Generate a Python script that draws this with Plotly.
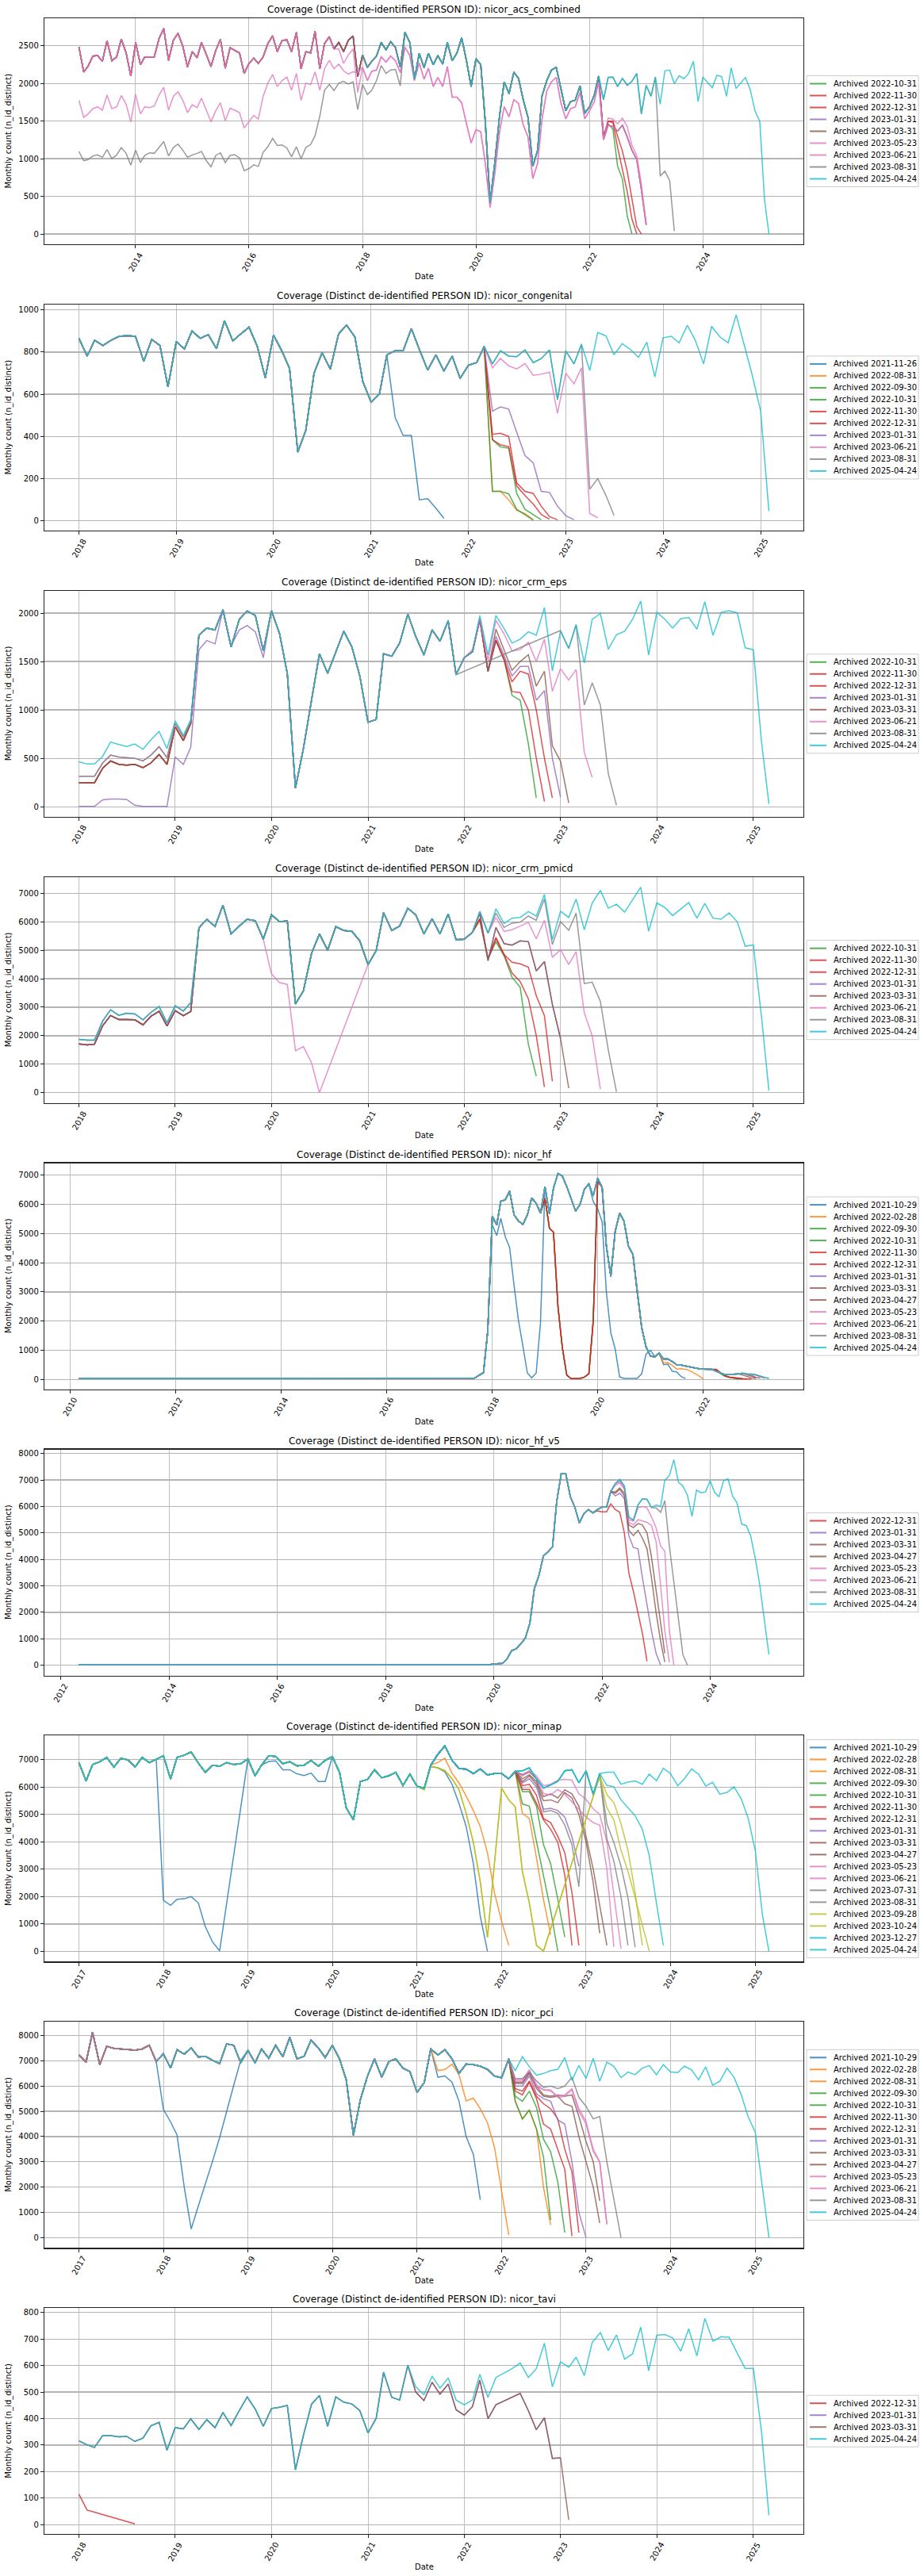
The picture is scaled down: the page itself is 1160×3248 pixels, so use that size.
import plotly.graph_objects as go
from datetime import datetime

# ---------------- archive palette ----------------
ARCHIVE_DATES = ["2021-10-29", "2021-11-26", "2022-02-28", "2022-08-31", "2022-09-30", "2022-10-31",
                 "2022-11-30", "2022-12-31", "2023-01-31", "2023-03-31", "2023-04-27", "2023-05-23",
                 "2023-06-21", "2023-07-31", "2023-08-31", "2023-09-28", "2023-10-24", "2023-12-27",
                 "2025-04-24"]
ARCHIVE_COLORS = ["#1f77b4", "#1f77b4", "#ff7f0e", "#ff7f0e", "#2ca02c", "#2ca02c",
                  "#d62728", "#d62728", "#9467bd", "#8c564b", "#8c564b", "#e377c2",
                  "#e377c2", "#7f7f7f", "#7f7f7f", "#bcbd22", "#bcbd22", "#17becf",
                  "#17becf"]

# ---------------- nicor_acs_combined (months from 2013-01) ----------------
ACS_START = "2013-01"
ACS_TOP_EARLY = [2485, 2150, 2230, 2363, 2370, 2293, 2569, 2300, 2352, 2590,
                 2405, 2097, 2544, 2248, 2352, 2352, 2352, 2597, 2729, 2307,
                 2572, 2666, 2492, 2220, 2422, 2342, 2544, 2387, 2223, 2439,
                 2586, 2202, 2474, 2439, 2405, 2132, 2265, 2335, 2265, 2352,
                 2527, 2631, 2422, 2572, 2579, 2422, 2677, 2195, 2422, 2405,
                 2694, 2195, 2527, 2621]
ACS_BROWN_1718 = [2457, 2544, 2422, 2572, 2631, 2090]
ACS_PINK_1718 = [2457, 2457, 2265, 2377, 2457, 1880]
ACS_LOWER_EARLY = [1776, 1550, 1595, 1665, 1689, 1644, 1846, 1665, 1689, 1839,
                   1724, 1487, 1853, 1595, 1689, 1679, 1700, 1846, 1951, 1644,
                   1829, 1888, 1776, 1612, 1717, 1679, 1804, 1654, 1490, 1637,
                   1742, 1504, 1672, 1644, 1612, 1410, 1490, 1574, 1525, 1829,
                   2003, 2118, 1958, 2038, 2084, 1909, 2132, 1776, 2003, 1986,
                   2153, 1909, 2195, 2307, 2195, 2255, 2167, 2125, 2153, 2143]
ACS_GRAY_EARLY = [1096, 974, 988, 1037, 1050, 1019, 1120, 1002, 1050, 1148,
                  1071, 914, 1113, 949, 1044, 1078, 1071, 1155, 1228, 1037,
                  1148, 1194, 1113, 1019, 1050, 1071, 1096, 974, 893, 1044,
                  1078, 949, 1044, 1054, 1009, 841, 869, 918, 897, 1085,
                  1159, 1270, 1176, 1183, 1141, 1026, 1159, 998, 1148, 1190,
                  1305, 1567, 1909, 1986, 1906, 2003, 2028, 1993, 2021, 1654,
                  1986, 1853, 1909, 2038, 2237, 2132, 2178, 2185, 1968]
ACS_BASE = [2377, 2213, 2293, 2363, 2544, 2447, 2555, 2474, 2213, 2677,
            2544, 2056, 2398, 2210, 2400, 2248, 2370, 2255, 2544, 2300,
            2405, 2607, 2300, 1958, 2328, 2248, 1497, 415, 939, 1567,
            2021, 1864, 2150, 2066, 1776, 1550, 897, 1113, 1829, 2038,
            2178, 2213, 1916, 1637, 1759, 1776, 1968, 1602, 1689, 1846,
            2097, 1783, 2080, 2084, 1958, 2066, 1975, 2028, 2132, 1595,
            1975, 1829, 2084, 1724, 2167, 2178, 1996, 2101, 2063, 2132,
            2293, 1759, 2084, 2014, 1944, 2108, 2091, 1829, 2206, 1934,
            2003, 2080, 1916, 1637, 1497, 450, 3]
ACS_PINK_MID = [2213, 2038, 2160, 2178, 2352, 2283, 2363, 2300, 2143, 2481,
                2370, 2038, 2272, 2056, 2202, 1958, 2080, 1958, 2223, 1818,
                1818, 1742, 1462, 1208, 1386, 1358, 939, 353, 799, 1358,
                1689, 1557, 1783, 1735, 1445, 1288, 736, 939, 1525, 1899,
                2021, 2080, 1742, 1529, 1665, 1689, 1881, 1529, 1637, 1759, 2021]
ACS_GREEN_TAIL = [1323, 1462, 1392, 900, 729, 240, 3]
ACS_RED1130_TAIL = [1288, 1497, 1480, 1150, 870, 560, 200, 3]
ACS_RED1231_TAIL = [1288, 1497, 1500, 1300, 1100, 830, 480, 100, 0]
ACS_LATE_TAIL = [1253, 1445, 1427, 1368, 1445, 1288, 1113, 991, 590, 120]
ACS_PINK0621_TAIL = [1253, 1539, 1525, 1462, 1539, 1427, 1183, 1043, 660, 136]
ACS_GRAY_TAIL = [771, 834, 712, 38]
ACS_TICK_YEARS = [2014, 2016, 2018, 2020, 2022, 2024]

_ACS_PRE = [(0, ACS_TOP_EARLY), (54, ACS_BROWN_1718), (60, ACS_BASE[:51])]
ACS_SERIES = [
    ("2022-10-31", _ACS_PRE + [(111, ACS_GREEN_TAIL)]),
    ("2022-11-30", _ACS_PRE + [(111, ACS_RED1130_TAIL)]),
    ("2022-12-31", _ACS_PRE + [(111, ACS_RED1231_TAIL)]),
    ("2023-01-31", _ACS_PRE + [(111, ACS_LATE_TAIL)]),
    ("2023-03-31", _ACS_PRE + [(111, ACS_LATE_TAIL)]),
    ("2023-05-23", [(0, ACS_LOWER_EARLY), (60, ACS_PINK_MID), (111, ACS_LATE_TAIL)]),
    ("2023-06-21", [(0, ACS_TOP_EARLY), (54, ACS_PINK_1718), (60, ACS_PINK_MID), (111, ACS_PINK0621_TAIL)]),
    ("2023-08-31", [(0, ACS_GRAY_EARLY), (69, ACS_BASE[9:63]), (123, ACS_GRAY_TAIL)]),
    ("2025-04-24", [(60, ACS_BASE)]),
]

# ---------------- nicor_congenital (months from 2018-01) ----------------
CONG_START = "2018-01"
CONG_BASE = [865, 781, 856, 831, 856, 875, 878, 875, 756, 860,
             831, 635, 850, 815, 900, 865, 883, 816, 949, 853,
             887, 918, 827, 678, 881, 806, 723, 326, 429, 700,
             797, 719, 887, 928, 872, 660, 563, 601, 787, 806,
             806, 912, 812, 715, 787, 710, 781, 675, 738, 750,
             827, 744, 806, 781, 778, 810, 750, 769, 810, 576,
             806, 744, 837, 713, 893, 877, 787, 840, 812, 775,
             847, 682, 868, 875, 844, 927, 856, 744, 922, 872,
             844, 977, 831, 688, 520, 46]
CONG_BLUE_TAIL = [490, 405, 405, 100, 105, 60, 12]
CONG_ORANGE_TAIL = [140, 140, 100, 50, 35, 5]
CONG_GREEN0930_TAIL = [140, 140, 128, 55, 30, 3]
CONG_GREEN1031_TAIL = [385, 350, 345, 130, 55, 30, 5]
CONG_RED1130_TAIL = [385, 360, 352, 165, 120, 80, 30, 8]
CONG_RED1231_TAIL = [410, 415, 400, 180, 140, 130, 70, 20, 5]
CONG_PURPLE_TAIL = [520, 540, 530, 420, 310, 275, 140, 135, 70, 25, 5]
CONG_PINK_TAIL = [725, 770, 735, 720, 745, 690, 695, 705, 510, 700, 650, 725, 35, 15]
CONG_GRAY_TAIL = [575, 806, 744, 837, 150, 200, 120, 25]
CONG_TICK_YEARS = [2018, 2019, 2020, 2021, 2022, 2023, 2024, 2025]

CONG_SERIES = [
    ("2021-11-26", [(0, CONG_BASE[:39]), (39, CONG_BLUE_TAIL)]),
    ("2022-08-31", [(0, CONG_BASE[:51]), (51, CONG_ORANGE_TAIL)]),
    ("2022-09-30", [(0, CONG_BASE[:51]), (51, CONG_GREEN0930_TAIL)]),
    ("2022-10-31", [(0, CONG_BASE[:51]), (51, CONG_GREEN1031_TAIL)]),
    ("2022-11-30", [(0, CONG_BASE[:51]), (51, CONG_RED1130_TAIL)]),
    ("2022-12-31", [(0, CONG_BASE[:51]), (51, CONG_RED1231_TAIL)]),
    ("2023-01-31", [(0, CONG_BASE[:51]), (51, CONG_PURPLE_TAIL)]),
    ("2023-06-21", [(0, CONG_BASE[:51]), (51, CONG_PINK_TAIL)]),
    ("2023-08-31", [(0, CONG_BASE[:59]), (59, CONG_GRAY_TAIL)]),
    ("2025-04-24", [(0, CONG_BASE)]),
]

# ---------------- nicor_crm_eps (months from 2018-01) ----------------
EPS_START = "2018-01"
EPS_BASE = [465, 441, 441, 520, 669, 642, 623, 648, 593, 691,
            778, 601, 887, 737, 901, 1771, 1845, 1826, 2035, 1649,
            1935, 2022, 1975, 1608, 2024, 1785, 1377, 193, 601, 1105,
            1581, 1377, 1594, 1812, 1649, 1350, 873, 901, 1581, 1554,
            1690, 1989, 1758, 1567, 1826, 1709, 1921, 1363, 1540, 1603,
            1975, 1567, 1975, 1839, 1690, 1731, 1807, 1771, 2057, 1404,
            1812, 1635, 1880, 1486, 1935, 1994, 1627, 1777, 1812, 1935,
            2125, 1567, 2008, 1935, 1845, 1943, 1954, 1834, 2117, 1771,
            2008, 2024, 2003, 1641, 1622, 669, 30]
EPS_BROWN_EARLY = [248, 248, 248, 397, 473, 438, 430, 438, 403, 452, 539, 438, 825, 683, 860]
EPS_GRAY_EARLY = [316, 316, 316, 452, 533, 514, 506, 500, 473, 533, 620, 506, 860, 720, 880]
EPS_PURPLE_EARLY = [3, 3, 3, 71, 79, 79, 76, 16, 3, 3, 3, 3, 514, 438, 615, 1622, 1717, 1682,
                    2030, 1663, 1826, 1872, 1807, 1540]
EPS_GREEN_TAIL = [1540, 1600, 1935, 1400, 1720, 1520, 1150, 1100, 650, 90]
EPS_RED1130_TAIL = [1540, 1600, 1935, 1400, 1720, 1520, 1190, 1180, 1000, 500, 55]
EPS_RED1231_TAIL = [1540, 1600, 1935, 1400, 1720, 1520, 1290, 1400, 1370, 1000, 500, 90]
EPS_PURPLE_TAIL = [1540, 1600, 1935, 1400, 1760, 1560, 1350, 1450, 1450, 1100, 1200, 500, 100]
EPS_BROWN_TAIL = [1540, 1600, 1935, 1400, 1834, 1620, 1409, 1500, 1570, 1245, 1400, 630, 470, 40]
EPS_PINK_TAIL = [1540, 1620, 1943, 1513, 1926, 1785, 1608, 1622, 1698, 1499, 1731, 1192, 1426,
                 1309, 1418, 561, 302]
EPS_GRAY_TAIL = [1820, 1635, 1880, 1050, 1280, 1050, 343, 16]
EPS_TICK_YEARS = [2018, 2019, 2020, 2021, 2022, 2023, 2024, 2025]

_EPS_PRE = [(0, EPS_BROWN_EARLY), (15, EPS_BASE[15:48])]
EPS_SERIES = [
    ("2022-10-31", _EPS_PRE + [(48, EPS_GREEN_TAIL)]),
    ("2022-11-30", _EPS_PRE + [(48, EPS_RED1130_TAIL)]),
    ("2022-12-31", _EPS_PRE + [(48, EPS_RED1231_TAIL)]),
    ("2023-01-31", [(0, EPS_PURPLE_EARLY), (24, EPS_BASE[24:48]), (48, EPS_PURPLE_TAIL)]),
    ("2023-03-31", _EPS_PRE + [(48, EPS_BROWN_TAIL)]),
    ("2023-06-21", [(0, EPS_GRAY_EARLY), (15, EPS_BASE[15:48]), (48, EPS_PINK_TAIL)]),
    ("2023-08-31", [(0, EPS_GRAY_EARLY), (15, EPS_BASE[15:48]), (60, EPS_GRAY_TAIL)]),
    ("2025-04-24", [(0, EPS_BASE)]),
]

# ---------------- nicor_crm_pmicd (months from 2018-01) ----------------
PMICD_START = "2018-01"
PMICD_BASE = [1870, 1842, 1842, 2514, 2910, 2717, 2790, 2763, 2560, 2818,
              3021, 2450, 3049, 2864, 3159, 5784, 6088, 5830, 6585, 5572,
              5848, 6088, 6033, 5388, 6244, 5996, 6033, 3113, 3573, 4890,
              5572, 5001, 5830, 5692, 5664, 5323, 4494, 4983, 6318, 5692,
              5848, 6475, 6244, 5572, 6106, 5572, 6272, 5369, 5388, 5627,
              6355, 5600, 6456, 5940, 6125, 6152, 6355, 6198, 6954, 5369,
              6364, 6152, 6797, 5719, 6659, 7101, 6475, 6613, 6336, 6769,
              7211, 5664, 6659, 6493, 6217, 6447, 6677, 6125, 6640, 6125,
              6088, 6309, 5996, 5139, 5185, 2652, 74]
PMICD_BROWN_EARLY = [1710, 1680, 1700, 2350, 2710, 2570, 2570, 2560, 2380, 2680, 2860, 2340,
                     2880, 2700, 2850]
PMICD_GREEN_TAIL = [6050, 4700, 5300, 4800, 4050, 3700, 1700, 580]
PMICD_RED1130_TAIL = [6100, 4700, 5400, 4850, 4200, 3900, 3300, 2000, 200]
PMICD_RED1231_TAIL = [6100, 4700, 5450, 4850, 4580, 4520, 4400, 3400, 2700, 400]
PMICD_PURPLE_TAIL = [6290, 4630, 5800, 5230, 5180, 5330, 5300, 4270, 4600, 3100, 1900]
PMICD_BROWN_TAIL = [6290, 4630, 5800, 5230, 5180, 5330, 5300, 4270, 4600, 3100, 1900, 160]
PMICD_PINK_DIP = [6033, 5388, 4172, 3860, 3800, 1470, 1620, 1050, 0]
PMICD_PINK_TAIL = [6150, 5660, 5720, 5850, 5980, 5400, 6050, 4750, 5020, 4500, 4950, 2800, 2000, 130]
PMICD_GRAY_TAIL = [6300, 5800, 5950, 5980, 6200, 6050, 6800, 5200, 6000, 5700, 6300, 3830,
                   3880, 3200, 1500, 30]
PMICD_TICK_YEARS = [2018, 2019, 2020, 2021, 2022, 2023, 2024, 2025]

_PM_PRE = [(0, PMICD_BROWN_EARLY), (15, PMICD_BASE[15:50])]
PMICD_SERIES = [
    ("2022-10-31", _PM_PRE + [(50, PMICD_GREEN_TAIL)]),
    ("2022-11-30", _PM_PRE + [(50, PMICD_RED1130_TAIL)]),
    ("2022-12-31", _PM_PRE + [(50, PMICD_RED1231_TAIL)]),
    ("2023-01-31", _PM_PRE + [(50, PMICD_PURPLE_TAIL)]),
    ("2023-03-31", _PM_PRE + [(50, PMICD_BROWN_TAIL)]),
    ("2023-06-21", [(0, PMICD_BASE[:22]), (22, PMICD_PINK_DIP), (36, PMICD_BASE[36:52]),
                    (52, PMICD_PINK_TAIL)]),
    ("2023-08-31", [(0, PMICD_BASE[:52]), (52, PMICD_GRAY_TAIL)]),
    ("2025-04-24", [(0, PMICD_BASE)]),
]

# ---------------- nicor_hf (months from 2010-03) ----------------
HF_START = "2010-03"
HF_FLAT = [35, 35, 35, 35, 35, 35, 35, 35, 35, 35,
           35, 35, 35, 35, 35, 35, 35, 35, 35, 35,
           35, 35, 35, 35, 35, 35, 35, 35, 35, 35,
           35, 35, 35, 35, 35, 35, 35, 35, 35, 35,
           35, 35, 35, 35, 35, 35, 35, 35, 35, 35,
           35, 35, 35, 35, 35, 35, 35, 35, 35, 35,
           35, 35, 35, 35, 35, 35, 35, 35, 35, 35,
           35, 35, 35, 35, 35, 35, 35, 35, 35, 35,
           35, 35, 35, 35, 35, 35, 35, 35, 38, 42]
HF_LATE = [50, 145, 235, 1680,
           5590, 5300, 6110, 6155, 6455, 5640, 5430, 5315, 5640, 6220, 6040, 5700,
           6610, 5680, 6560, 7060, 6970, 6610, 6200, 5770, 6000, 6520, 6700, 6290,
           6900, 6580, 4570, 3535, 5070, 5700, 5430, 4570, 4285, 2990, 1770, 1120,
           795, 780, 910, 700, 700, 615, 505, 490, 460, 415, 400, 370,
           360, 350, 350, 280, 215, 165, 165, 180, 190, 215, 190, 190,
           160, 125, 75, 35]
HF_BLUE_2018 = [5300, 4930, 5520, 4890, 4530, 3220, 2040, 1140, 220, 55, 220, 1950]
HF_BLUE_2020 = [6100, 5850, 5400, 3000, 1600, 1050, 90, 40, 35, 35, 35, 200, 870, 1000]
HF_BLUE_2021 = [780, 910, 505, 525, 280, 260, 100, 35]
HF_ORANGE_TAIL = [570, 580, 480, 360, 370, 350, 300, 220, 130, 20]
HF_RED_DIP = [6200, 5180, 5050, 2500, 1100, 150, 30, 30, 35, 80, 200, 2000, 6800]
HF_G0930_TAIL = [330, 200, 110, 70, 40, 20]
HF_G1031_TAIL = [340, 215, 120, 80, 50, 30, 20]
HF_R1130_TAIL = [345, 225, 130, 80, 55, 35, 25, 20]
HF_R1231_TAIL = [350, 230, 135, 85, 60, 40, 30, 25, 20]
HF_PURPLE_TAIL = [200, 180, 150, 60]
HF_BROWN0331_TAIL = [150, 100, 60, 40]
HF_BROWN0427_TAIL = [160, 110, 70, 50]
HF_PINK0523_TAIL = [180, 150, 90, 40]
HF_PINK0621_TAIL = [185, 160, 110, 40]
HF_TICK_YEARS = [2010, 2012, 2014, 2016, 2018, 2020, 2022]

_HF_DIP = [(0, HF_FLAT), (90, HF_LATE[:16]), (106, HF_RED_DIP), (119, HF_LATE[29:55])]
HF_SERIES = [
    ("2021-10-29", [(0, HF_FLAT), (90, HF_LATE[:4]), (94, HF_BLUE_2018), (106, HF_LATE[16:27]),
                    (117, HF_BLUE_2020), (131, HF_BLUE_2021)]),
    ("2022-02-28", [(0, HF_FLAT), (90, HF_LATE[:43]), (133, HF_ORANGE_TAIL)]),
    ("2022-09-30", _HF_DIP + [(145, HF_G0930_TAIL)]),
    ("2022-10-31", _HF_DIP + [(145, HF_G1031_TAIL)]),
    ("2022-11-30", _HF_DIP + [(145, HF_R1130_TAIL)]),
    ("2022-12-31", _HF_DIP + [(145, HF_R1231_TAIL)]),
    ("2023-01-31", [(0, HF_FLAT), (90, HF_LATE[:61]), (151, HF_PURPLE_TAIL)]),
    ("2023-03-31", [(0, HF_FLAT), (90, HF_LATE[:61]), (151, HF_BROWN0331_TAIL)]),
    ("2023-04-27", [(0, HF_FLAT), (90, HF_LATE[:62]), (152, HF_BROWN0427_TAIL)]),
    ("2023-05-23", [(0, HF_FLAT), (90, HF_LATE[:63]), (153, HF_PINK0523_TAIL)]),
    ("2023-06-21", [(0, HF_FLAT), (90, HF_LATE[:63]), (153, HF_PINK0621_TAIL)]),
    ("2023-08-31", [(0, HF_FLAT), (90, HF_LATE)]),
    ("2025-04-24", [(0, HF_FLAT), (90, HF_LATE)]),
]

# ---------------- nicor_hf_v5 (months from 2012-05) ----------------
V5_START = "2012-05"
V5_FLAT = [15, 15, 15, 15, 15, 15, 15, 15, 15, 15,
           15, 15, 15, 15, 15, 15, 15, 15, 15, 15,
           15, 15, 15, 15, 15, 15, 15, 15, 15, 15,
           15, 15, 15, 15, 15, 15, 15, 15, 15, 15,
           15, 15, 15, 15, 15, 15, 15, 15, 15, 15,
           15, 15, 15, 15, 15, 15, 15, 15, 15, 15,
           15, 15, 15, 15, 15, 15, 15, 15, 15, 15,
           15, 15, 15, 15, 15, 15, 15, 15, 15, 15,
           15, 15, 15, 15, 15, 15, 15, 15, 15, 15, 18]
V5_LATE = [20,
           50, 50, 70, 250, 550, 620, 800, 1020, 1590, 2890, 3390, 4130,
           4280, 4480, 6180, 7250, 7250, 6370, 5980, 5380, 5730, 5880, 5760, 5880,
           5980, 5980, 6570, 6870, 7020, 6770, 5600, 5480, 6060, 6290, 6270, 5960,
           6060, 6000, 6990, 7170, 7770, 6920, 6770, 6420, 5630, 6620, 6520, 6550,
           6970, 6520, 6370, 6970, 7050, 6390, 6130, 5330, 5280, 4880, 4030, 3040,
           1640, 400]
V5_RED_TAIL = [5830, 5800, 5800, 6100, 5880, 5780, 5000, 3490, 2790, 2000, 1200, 150]
V5_PURPLE_TAIL = [6400, 6500, 6300, 4900, 4450, 4400, 3300, 2300, 1300, 450, 0]
V5_BROWN0331_TAIL = [6500, 6650, 6400, 5100, 4900, 5100, 4800, 4400, 3300, 2000, 900, 120]
V5_BROWN0427_TAIL = [6550, 6700, 6500, 5300, 5200, 5350, 5300, 5000, 4100, 2800, 1500, 450]
V5_PINK0523_TAIL = [6800, 6900, 6650, 5400, 5300, 5500, 5450, 5400, 5280, 4680, 3000, 1300, 100]
V5_PINK0621_TAIL = [6850, 6950, 6700, 5500, 5450, 5950, 6000, 5950, 5600, 5200, 4500, 4300, 1300, 0]
V5_GRAY_TAIL = [5950, 5780, 6220, 4500, 3200, 1800, 400, 0]
V5_TICK_YEARS = [2012, 2014, 2016, 2018, 2020, 2022, 2024]

V5_SERIES = [
    ("2022-12-31", [(0, V5_FLAT), (91, V5_LATE[:24]), (115, V5_RED_TAIL)]),
    ("2023-01-31", [(0, V5_FLAT), (91, V5_LATE[:28]), (119, V5_PURPLE_TAIL)]),
    ("2023-03-31", [(0, V5_FLAT), (91, V5_LATE[:28]), (119, V5_BROWN0331_TAIL)]),
    ("2023-04-27", [(0, V5_FLAT), (91, V5_LATE[:28]), (119, V5_BROWN0427_TAIL)]),
    ("2023-05-23", [(0, V5_FLAT), (91, V5_LATE[:28]), (119, V5_PINK0523_TAIL)]),
    ("2023-06-21", [(0, V5_FLAT), (91, V5_LATE[:28]), (119, V5_PINK0621_TAIL)]),
    ("2023-08-31", [(0, V5_FLAT), (91, V5_LATE[:37]), (128, V5_GRAY_TAIL)]),
    ("2025-04-24", [(0, V5_FLAT), (91, V5_LATE)]),
]

# ---------------- nicor_minap (months from 2017-01) ----------------
MINAP_START = "2017-01"
MINAP_BASE = [6890, 6220, 6820, 6920, 7080, 6730, 7045, 6990, 6730, 7080,
              6890, 7020, 7140, 6290, 7080, 7160, 7280, 6870, 6535, 6795,
              6755, 6890, 6820, 6850, 7020, 6410, 6795, 7140, 7110, 6850,
              6920, 6775, 6795, 6970, 6755, 6970, 7110, 6535, 5235, 4800,
              6200, 6275, 6630, 6340, 6410, 6535, 6055, 6470, 6025,
              5950, 6800, 7200, 7500,
              6970, 6680, 6650, 6490, 6660, 6440, 6490,
              6490, 6300, 6570, 6590, 6700, 6300, 5960, 6075, 6200, 6590, 6630, 6150,
              6590, 5740, 6490, 6540, 6540, 6100, 6180, 6220, 6100, 6470, 6230, 6680,
              6490, 6045, 6300, 6660, 6470, 6035, 6170, 5740, 5800, 6010, 5575, 4870,
              3690, 1330, 10]
MINAP_BLUE_2018 = [1860, 1680, 1900, 1920, 2000, 1770, 900, 350, 20]
MINAP_BLUE_2019 = [7020, 6400, 6800, 6930, 6950, 6630, 6630, 6480, 6420, 6510, 6200, 6200]
MINAP_BLUE_2021 = [6750, 6700, 6550, 6100, 5400, 4560, 3210, 1280, 10]
MINAP_ORANGE0228_TAIL = [6800, 6900, 7050, 6500, 6150, 5670, 5140, 4560, 3600, 2150, 1100, 220]
MINAP_ORANGE0831_TAIL = [5040, 4850, 3400, 1900, 600]
MINAP_GREEN0930_TAIL = [5380, 5300, 4000, 2800, 1500, 0]
MINAP_GREEN1031_TAIL = [5830, 5830, 5300, 3900, 3200, 1900, 520]
MINAP_RED1130_TAIL = [5910, 5910, 5400, 4800, 4460, 3980, 2800, 220]
MINAP_RED1231_TAIL = [6050, 6100, 5700, 4850, 4700, 4200, 3600, 2150, 220]
MINAP_PURPLE_TAIL = [6150, 6300, 6000, 5190, 5220, 5140, 4900, 4180, 3110]
MINAP_BROWN0331_TAIL = [6200, 6400, 6100, 5500, 5530, 5430, 5800, 5600, 5000, 4000, 2500, 660]
MINAP_BROWN0427_TAIL = [6300, 6450, 6200, 5650, 5750, 5600, 5900, 5750, 5300, 4200, 3000, 1700, 220]
MINAP_PINK0523_TAIL = [6400, 6550, 6300, 5770, 5700, 5910, 5740, 5450, 5190, 4900, 4700, 4610, 3000, 170]
MINAP_PINK0621_TAIL = [6450, 6600, 6400, 6050, 6100, 6250, 6280, 6250, 5750, 5550, 5200, 5000,
                       4000, 2000, 100]
MINAP_GRAY0731_TAIL = [6450, 6550, 6300, 5090, 5140, 5040, 4610, 3890, 2360, 6590, 5700, 6490,
                       4100, 3300, 2000, 220]
MINAP_GRAY0831_TAIL = [4660, 3980, 3110, 1960, 150]
MINAP_OLIVE_2021 = [5900, 6750, 6700, 6600, 6300, 5910, 5040, 3980, 2540, 510]
MINAP_OLIVE_2022 = [5960, 5530, 5280, 2920, 1760, 220, 10]
MINAP_OLIVE0928_2023 = [6390, 5720, 5430, 4660, 3690, 2150, 220]
MINAP_OLIVE1024_2023 = [6390, 5240, 4800, 3690, 2920, 1960, 1000, 10]
MINAP_CYAN1227_TAIL = [6060, 6010, 5530, 5240, 4950, 4460, 3500, 1770, 220]
MINAP_TICK_YEARS = [2017, 2018, 2019, 2020, 2021, 2022, 2023, 2024, 2025]

_MI_PRE = [(0, MINAP_BASE[:63])]
_MI_OLIVE = [(0, MINAP_BASE[:49]), (49, MINAP_OLIVE_2021), (60, MINAP_OLIVE_2022)]
MINAP_SERIES = [
    ("2021-10-29", [(0, MINAP_BASE[:12]), (12, MINAP_BLUE_2018), (24, MINAP_BLUE_2019),
                    (36, MINAP_BASE[36:50]), (50, MINAP_BLUE_2021)]),
    ("2022-02-28", [(0, MINAP_BASE[:50]), (50, MINAP_ORANGE0228_TAIL)]),
    ("2022-08-31", _MI_PRE + [(63, MINAP_ORANGE0831_TAIL)]),
    ("2022-09-30", _MI_PRE + [(63, MINAP_GREEN0930_TAIL)]),
    ("2022-10-31", _MI_PRE + [(63, MINAP_GREEN1031_TAIL)]),
    ("2022-11-30", _MI_PRE + [(63, MINAP_RED1130_TAIL)]),
    ("2022-12-31", _MI_PRE + [(63, MINAP_RED1231_TAIL)]),
    ("2023-01-31", _MI_PRE + [(63, MINAP_PURPLE_TAIL)]),
    ("2023-03-31", _MI_PRE + [(63, MINAP_BROWN0331_TAIL)]),
    ("2023-04-27", _MI_PRE + [(63, MINAP_BROWN0427_TAIL)]),
    ("2023-05-23", _MI_PRE + [(63, MINAP_PINK0523_TAIL)]),
    ("2023-06-21", _MI_PRE + [(63, MINAP_PINK0621_TAIL)]),
    ("2023-07-31", _MI_PRE + [(63, MINAP_GRAY0731_TAIL)]),
    ("2023-08-31", [(0, MINAP_BASE[:75]), (75, MINAP_GRAY0831_TAIL)]),
    ("2023-09-28", _MI_OLIVE + [(74, MINAP_OLIVE0928_2023)]),
    ("2023-10-24", _MI_OLIVE + [(74, MINAP_OLIVE1024_2023)]),
    ("2023-12-27", [(0, MINAP_BASE[:75]), (75, MINAP_CYAN1227_TAIL)]),
    ("2025-04-24", [(0, MINAP_BASE)]),
]

# ---------------- nicor_pci (months from 2017-01) ----------------
PCI_START = "2017-01"
PCI_BASE = [7230, 6950, 8135, 6850, 7575, 7490, 7470, 7440, 7420, 7470,
            7615, 6970, 7280, 6710, 7440, 7260, 7510, 7150, 7180, 7020,
            6890, 7670, 7615, 6920, 7410, 6920, 7470, 7100, 7615, 7160,
            7930, 7075, 7180, 7820, 7510, 7130, 7615, 7075, 6245, 4060,
            5465, 6400, 7075, 6350, 6970, 7075, 6710, 6575, 5745, 6140,
            7470, 7230, 7440, 7075, 6500, 6870, 6850, 6785, 6660, 6400,
            6330, 7075, 6610, 7160, 6765, 6430, 6500, 6610, 6660, 7130,
            6225, 6815, 6300, 7100, 6190, 6950, 6785, 6330, 6555, 6450,
            6710, 6815, 6450, 6850, 6555, 6535, 6785, 6640, 6245, 6765,
            6035, 6190, 6710, 6350, 5675, 4790, 4170, 1985, 10]
PCI_BLUE_2018 = [5080, 4580, 4060, 2000, 340, 1250, 2090, 3020, 3960, 5000, 6040, 7020]
PCI_BLUE_2021 = [6350, 6400, 6150, 5400, 4000, 3300, 1500]
PCI_ORANGE0228_TAIL = [6610, 6660, 6870, 6450, 5410, 5520, 5100, 4550, 3600, 1900, 100]
PCI_ORANGE0831_TAIL = [5400, 4700, 5050, 4300, 2000, 500]
PCI_GREEN0930_TAIL = [5400, 4700, 5050, 4300, 3200, 700]
PCI_GREEN1031_TAIL = [5600, 5400, 5800, 5150, 3900, 3400, 2200, 200]
PCI_RED1130_TAIL = [5800, 5650, 6150, 5500, 4500, 4300, 3500, 2700, 60]
PCI_RED1231_TAIL = [5900, 5800, 6200, 5600, 5300, 5100, 4700, 3500, 2600, 200]
PCI_PURPLE_TAIL = [6000, 6000, 6400, 5700, 5500, 5400, 4650, 4500, 3000, 1000, 0]
PCI_BROWN0331_TAIL = [6100, 6100, 6500, 5900, 5600, 5550, 5600, 5300, 5200, 4000, 3000, 2000, 580]
PCI_BROWN0427_TAIL = [6150, 6150, 6550, 6000, 5650, 5600, 5650, 5600, 5650, 4800, 3800, 3000, 1460]
PCI_PINK0523_TAIL = [6200, 6200, 6600, 6000, 5850, 5850, 5550, 5600, 5850, 5000, 4500, 3400, 3000, 530]
PCI_PINK0621_TAIL = [6250, 6250, 6650, 6050, 5850, 5800, 5600, 5650, 5900, 5100, 4600, 3500, 3000, 530]
PCI_GRAY_TAIL = [6300, 6300, 6550, 6200, 5950, 6000, 5900, 6000, 6350, 5550, 5200, 4700, 4800,
                 3000, 1500, 0]
PCI_TICK_YEARS = [2017, 2018, 2019, 2020, 2021, 2022, 2023, 2024, 2025]

_PCI_PRE = [(0, PCI_BASE[:62])]
PCI_SERIES = [
    ("2021-10-29", [(0, PCI_BASE[:12]), (12, PCI_BLUE_2018), (24, PCI_BASE[24:51]), (51, PCI_BLUE_2021)]),
    ("2022-02-28", [(0, PCI_BASE[:51]), (51, PCI_ORANGE0228_TAIL)]),
    ("2022-08-31", _PCI_PRE + [(62, PCI_ORANGE0831_TAIL)]),
    ("2022-09-30", _PCI_PRE + [(62, PCI_GREEN0930_TAIL)]),
    ("2022-10-31", _PCI_PRE + [(62, PCI_GREEN1031_TAIL)]),
    ("2022-11-30", _PCI_PRE + [(62, PCI_RED1130_TAIL)]),
    ("2022-12-31", _PCI_PRE + [(62, PCI_RED1231_TAIL)]),
    ("2023-01-31", _PCI_PRE + [(62, PCI_PURPLE_TAIL)]),
    ("2023-03-31", _PCI_PRE + [(62, PCI_BROWN0331_TAIL)]),
    ("2023-04-27", _PCI_PRE + [(62, PCI_BROWN0427_TAIL)]),
    ("2023-05-23", _PCI_PRE + [(62, PCI_PINK0523_TAIL)]),
    ("2023-06-21", _PCI_PRE + [(62, PCI_PINK0621_TAIL)]),
    ("2023-08-31", _PCI_PRE + [(62, PCI_GRAY_TAIL)]),
    ("2025-04-24", [(11, PCI_BASE[11:])]),
]

# ---------------- nicor_tavi (months from 2018-01) ----------------
TAVI_START = "2018-01"
TAVI_BASE = [316, 301, 291, 336, 336, 331, 333, 314, 326, 373,
             386, 281, 366, 361, 399, 359, 396, 366, 423, 374,
             430, 482, 435, 371, 438, 443, 450, 207, 336, 455,
             487, 371, 482, 462, 455, 430, 346, 401, 575, 480,
             470, 601, 520, 490, 560, 515, 553, 470, 452, 470,
             567, 480, 555, 572, 588, 610, 555, 588, 684, 520,
             614, 594, 632, 562, 687, 724, 657, 716, 624, 644,
             745, 581, 714, 717, 704, 654, 739, 636, 778, 692,
             709, 707, 649, 589, 589, 351, 35]
TAVI_RED = [115, 55, 47, 38, 29, 21, 12, 3]
TAVI_BROWN_TAIL = [500, 468, 537, 492, 530, 433, 413, 445, 545, 400, 452, 466, 480, 495, 430,
                   358, 403, 250, 252, 18]
TAVI_TICK_YEARS = [2018, 2019, 2020, 2021, 2022, 2023, 2024, 2025]

TAVI_SERIES = [
    ("2022-12-31", [(0, TAVI_RED)]),
    ("2023-01-31", [(0, TAVI_BASE[:42]), (42, TAVI_BROWN_TAIL[:-1])]),
    ("2023-03-31", [(0, TAVI_BASE[:42]), (42, TAVI_BROWN_TAIL)]),
    ("2025-04-24", [(0, TAVI_BASE)]),
]

PANELS = [
    ("nicor_acs_combined", ACS_START, ACS_SERIES, ACS_TICK_YEARS, 500),
    ("nicor_congenital", CONG_START, CONG_SERIES, CONG_TICK_YEARS, 200),
    ("nicor_crm_eps", EPS_START, EPS_SERIES, EPS_TICK_YEARS, 500),
    ("nicor_crm_pmicd", PMICD_START, PMICD_SERIES, PMICD_TICK_YEARS, 1000),
    ("nicor_hf", HF_START, HF_SERIES, HF_TICK_YEARS, 1000),
    ("nicor_hf_v5", V5_START, V5_SERIES, V5_TICK_YEARS, 1000),
    ("nicor_minap", MINAP_START, MINAP_SERIES, MINAP_TICK_YEARS, 1000),
    ("nicor_pci", PCI_START, PCI_SERIES, PCI_TICK_YEARS, 1000),
    ("nicor_tavi", TAVI_START, TAVI_SERIES, TAVI_TICK_YEARS, 100),
]


# ---------------- helpers ----------------
def add_months(start, k):
    y, m = (int(p) for p in start.split("-"))
    t = y * 12 + (m - 1) + k
    return datetime(t // 12, t % 12 + 1, 1)


def build(start, segments):
    xs, ys = [], []
    for off, vals in segments:
        for i, v in enumerate(vals):
            xs.append(add_months(start, off + i))
            ys.append(v)
    return xs, ys


# ---------------- geometry ----------------
W, H = 1160, 3248
ML, MR = 56, 147
PW = W - ML - MR
TOP0, PITCH, AXH = 23.0, 360.9, 285.0
FONT = "DejaVu Sans"
LEG_X0, LEG_X1 = 1017, 1158
LEG_H0, LEG_H1, LEG_TX = 1021, 1042, 1049
LEG_STEP = 15.0


def px_x(px):
    return (px - ML) / PW


def px_y(py):
    return 1 - py / H


fig = go.Figure()
layout = dict(
    width=W, height=H,
    margin=dict(l=ML, r=MR, t=0, b=0),
    paper_bgcolor="white", plot_bgcolor="white",
    font=dict(family=FONT, size=10, color="#000"),
    showlegend=False,
)
annotations = []
shapes = []

for i, (name, start, series, tick_years, dtick) in enumerate(PANELS):
    sfx = "" if i == 0 else str(i + 1)
    top = TOP0 + PITCH * i
    bot = top + AXH
    all_x, all_y = [], []
    for arch, segs in series:
        xs, ys = build(start, segs)
        all_x += xs
        all_y += ys
        col = ARCHIVE_COLORS[ARCHIVE_DATES.index(arch)]
        fig.add_trace(go.Scatter(
            x=xs, y=ys, mode="lines", name=f"Archived {arch}",
            line=dict(color=col, width=1.5), opacity=0.8,
            xaxis="x" + sfx, yaxis="y" + sfx, showlegend=False, hoverinfo="skip"))
    lo, hi = min(all_x), max(all_x)
    span = hi - lo
    xr = [(lo - span * 0.05).isoformat(), (hi + span * 0.05).isoformat()]
    ymin, ymax = min(all_y), max(all_y)
    pad = (ymax - ymin) * 0.05
    yr = [ymin - pad, ymax + pad]

    layout["xaxis" + sfx] = dict(
        domain=[0, 1], anchor="y" + sfx, type="date", range=xr,
        tickvals=[f"{yy}-01-01" for yy in tick_years], showticklabels=False,
        ticks="outside", ticklen=4, tickwidth=1, tickcolor="#222",
        showgrid=True, gridcolor="#b0b0b0", gridwidth=0.8,
        showline=True, linecolor="#222", linewidth=1.2, mirror=True,
        zeroline=False, automargin=False)
    layout["yaxis" + sfx] = dict(
        domain=[1 - bot / H, 1 - top / H], anchor="x" + sfx, range=yr,
        tick0=0, dtick=dtick, ticks="outside", ticklen=4, tickwidth=1, tickcolor="#222",
        showgrid=True, gridcolor="#b4b4b4", gridwidth=1.3,
        showline=True, linecolor="#222", linewidth=1.2, mirror=True,
        zeroline=False, automargin=False, tickfont=dict(size=10, color="#000"))

    # rotated, centred year labels (matplotlib style)
    for yy in tick_years:
        annotations.append(dict(
            text=str(yy), x=f"{yy}-01-01", y=px_y(bot + 6), xref="x" + sfx, yref="paper",
            xanchor="center", yanchor="top", textangle=-60, showarrow=False,
            font=dict(family=FONT, size=10, color="#000")))

    # titles and axis labels
    annotations.append(dict(
        text=f"Coverage (Distinct de-identified PERSON ID): {name}",
        x=0.5, y=px_y(top - 11), xref="paper", yref="paper",
        xanchor="center", yanchor="middle", showarrow=False,
        font=dict(family=FONT, size=12, color="#000")))
    annotations.append(dict(
        text="Monthly count (n_id_distinct)",
        x=px_x(11), y=px_y(top + AXH / 2), xref="paper", yref="paper",
        xanchor="center", yanchor="middle", textangle=-90, showarrow=False,
        font=dict(family=FONT, size=10, color="#000")))
    annotations.append(dict(
        text="Date", x=0.5, y=px_y(bot + 41), xref="paper", yref="paper",
        xanchor="center", yanchor="middle", showarrow=False,
        font=dict(family=FONT, size=10, color="#000")))

    # legend box (matplotlib style)
    n = len(series)
    cy = top + AXH / 2
    box_h = (n - 1) * LEG_STEP + 20
    btop = cy - box_h / 2
    shapes.append(dict(
        type="rect", xref="paper", yref="paper",
        x0=px_x(LEG_X0), x1=px_x(LEG_X1), y0=px_y(btop + box_h), y1=px_y(btop),
        line=dict(color="#cccccc", width=1), fillcolor="rgba(255,255,255,0.85)", layer="above"))
    for j, (arch, _) in enumerate(series):
        ey = btop + 10 + j * LEG_STEP
        col = ARCHIVE_COLORS[ARCHIVE_DATES.index(arch)]
        shapes.append(dict(
            type="line", xref="paper", yref="paper",
            x0=px_x(LEG_H0), x1=px_x(LEG_H1), y0=px_y(ey), y1=px_y(ey),
            line=dict(color=col, width=2), opacity=0.8, layer="above"))
        annotations.append(dict(
            text=f"Archived {arch}", x=px_x(LEG_TX), y=px_y(ey), xref="paper", yref="paper",
            xanchor="left", yanchor="middle", showarrow=False,
            font=dict(family=FONT, size=10, color="#000")))

layout["annotations"] = annotations
layout["shapes"] = shapes
fig.update_layout(**layout)
fig.write_html(
    "out.html",
    config={"displayModeBar": False, "staticPlot": True},
    post_script="document.body.style.margin='0';document.body.style.padding='0';"
                "document.body.style.overflow='hidden';"
                "document.documentElement.style.overflow='hidden';",
)
